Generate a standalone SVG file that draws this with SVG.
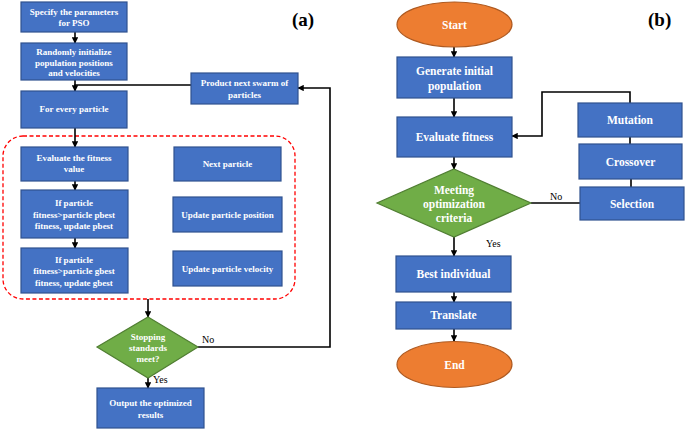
<svg xmlns="http://www.w3.org/2000/svg" width="685" height="431" viewBox="0 0 685 431">
<style>
.box{fill:#4472C4;stroke:#2F528F;stroke-width:1.2}
.dia{fill:#70AD47;stroke:#507E32;stroke-width:1.2}
.ell{fill:#ED7D31;stroke:#AE5A21;stroke-width:1.2}
.t{font-family:"Liberation Serif","Times New Roman",serif;font-weight:bold;fill:#fff;text-anchor:middle}
.ta{font-size:9px}
.tb{font-size:11.5px}
.lab{font-family:"Liberation Serif","Times New Roman",serif;font-size:10px;fill:#000}
.pl{font-family:"Liberation Serif","Times New Roman",serif;font-weight:bold;font-size:19px;fill:#000}
.c{fill:none;stroke:#000;stroke-width:1.6}
</style>
<defs>
<marker id="ah" viewBox="0 0 10 10" refX="9" refY="5" markerWidth="4" markerHeight="4" orient="auto"><path d="M0,0L10,5L0,10z" fill="#000"/></marker>
</defs>
<rect x="0" y="0" width="685" height="431" fill="#fff"/>
<text class="pl" x="292" y="26">(a)</text>
<text class="pl" x="648" y="26">(b)</text>
<rect x="3" y="136" width="292" height="163" rx="20" fill="none" stroke="#FF0000" stroke-width="1.3" stroke-dasharray="4,2.5"/>
<g id="connectors">
<line class="c" x1="75" y1="32" x2="75" y2="43" marker-end="url(#ah)"/>
<line class="c" x1="75" y1="80" x2="75" y2="91" marker-end="url(#ah)"/>
<polyline class="c" points="191,85 75,85 75,89"/>
<line class="c" x1="75" y1="128" x2="75" y2="147" marker-end="url(#ah)"/>
<line class="c" x1="75" y1="181" x2="75" y2="190" marker-end="url(#ah)"/>
<line class="c" x1="75" y1="238" x2="75" y2="248" marker-end="url(#ah)"/>
<line class="c" x1="148" y1="299" x2="148" y2="317" marker-end="url(#ah)"/>
<line class="c" x1="148" y1="378" x2="148" y2="388" marker-end="url(#ah)"/>
<polyline class="c" points="198,347 330,347 330,88 298,88" marker-end="url(#ah)"/>
<text class="lab" x="202" y="343">No</text>
<text class="lab" x="153" y="383">Yes</text>
<line class="c" x1="454" y1="46" x2="454" y2="57" marker-end="url(#ah)"/>
<line class="c" x1="454" y1="98" x2="454" y2="117" marker-end="url(#ah)"/>
<line class="c" x1="454" y1="157" x2="454" y2="169" marker-end="url(#ah)"/>
<polyline class="c" points="630,103 630,92 542,92 542,136 512,136" marker-end="url(#ah)"/>
<line class="c" x1="630" y1="137" x2="630" y2="144"/>
<line class="c" x1="631" y1="179" x2="631" y2="187"/>
<line class="c" x1="531" y1="203" x2="580" y2="203"/>
<text class="lab" x="550" y="200">No</text>
<line class="c" x1="454" y1="237" x2="454" y2="256" marker-end="url(#ah)"/>
<text class="lab" x="486" y="247">Yes</text>
<line class="c" x1="454" y1="292" x2="454" y2="302" marker-end="url(#ah)"/>
<line class="c" x1="454" y1="329" x2="454" y2="341" marker-end="url(#ah)"/>
</g>
<g id="a1"><rect class="box" x="21" y="2" width="106" height="30"/><text class="t ta" x="74" y="15">Specify the parameters</text><text class="t ta" x="74" y="26">for PSO</text></g>
<g id="a2"><rect class="box" x="21" y="43" width="106" height="37"/><text class="t ta" x="74" y="55">Randomly initialize</text><text class="t ta" x="74" y="65.5">population positions</text><text class="t ta" x="74" y="76">and velocities</text></g>
<g id="a3"><rect class="box" x="21" y="91" width="106" height="37"/><text class="t ta" x="74" y="112">For every particle</text></g>
<g id="a4"><rect class="box" x="191" y="73" width="107" height="31"/><text class="t ta" x="244.5" y="86">Product next swarm of</text><text class="t ta" x="244.5" y="98">particles</text></g>
<g id="a5"><rect class="box" x="21" y="147" width="107" height="34"/><text class="t ta" x="74" y="161">Evaluate the fitness</text><text class="t ta" x="74" y="172">value</text></g>
<g id="a6"><rect class="box" x="21" y="190" width="107" height="48"/><text class="t ta" x="74" y="206">If particle</text><text class="t ta" x="74" y="218">fitness&gt;particle pbest</text><text class="t ta" x="74" y="229">fitness, update pbest</text></g>
<g id="a7"><rect class="box" x="21" y="248" width="107" height="45"/><text class="t ta" x="74" y="263">If particle</text><text class="t ta" x="74" y="274">fitness&gt;particle gbest</text><text class="t ta" x="74" y="286">fitness, update gbest</text></g>
<g id="a8"><rect class="box" x="174" y="147" width="107" height="34"/><text class="t ta" x="227.5" y="167">Next particle</text></g>
<g id="a9"><rect class="box" x="173" y="197" width="109" height="35"/><text class="t ta" x="227.5" y="218">Update particle position</text></g>
<g id="a10"><rect class="box" x="173" y="251" width="109" height="35"/><text class="t ta" x="227.5" y="272">Update particle velocity</text></g>
<g id="a11"><polygon class="dia" points="148,317 198,347 148,378 97,347"/><text class="t ta" x="148" y="340">Stopping</text><text class="t ta" x="148" y="351">standards</text><text class="t ta" x="148" y="362">meet?</text></g>
<g id="a12"><rect class="box" x="97" y="388" width="107" height="40"/><text class="t ta" x="150.5" y="406">Output the optimized</text><text class="t ta" x="150.5" y="418">results</text></g>
<g id="b1"><ellipse class="ell" cx="454.5" cy="24.5" rx="57.5" ry="22.5"/><text class="t tb" x="454.5" y="28.5">Start</text></g>
<g id="b2"><rect class="box" x="397" y="57" width="115" height="41"/><text class="t tb" x="454.5" y="75">Generate initial</text><text class="t tb" x="454.5" y="90">population</text></g>
<g id="b3"><rect class="box" x="397" y="117" width="115" height="40"/><text class="t tb" x="454.5" y="141">Evaluate fitness</text></g>
<g id="b4"><rect class="box" x="578" y="103" width="104" height="34"/><text class="t tb" x="630" y="124">Mutation</text></g>
<g id="b5"><rect class="box" x="579" y="144" width="103" height="35"/><text class="t tb" x="630.5" y="166">Crossover</text></g>
<g id="b6"><rect class="box" x="580" y="187" width="104" height="33"/><text class="t tb" x="632" y="208">Selection</text></g>
<g id="b7"><polygon class="dia" points="454,169 531,203 454,237 377,203"/><text class="t tb" x="454" y="194">Meeting</text><text class="t tb" x="454" y="208">optimization</text><text class="t tb" x="454" y="222">criteria</text></g>
<g id="b8"><rect class="box" x="396" y="256" width="115" height="36"/><text class="t tb" x="453.5" y="278">Best individual</text></g>
<g id="b9"><rect class="box" x="396" y="302" width="115" height="27"/><text class="t tb" x="453.5" y="319">Translate</text></g>
<g id="b10"><ellipse class="ell" cx="454.5" cy="364.5" rx="57.5" ry="23"/><text class="t tb" x="454.5" y="368.5">End</text></g>
</svg>
